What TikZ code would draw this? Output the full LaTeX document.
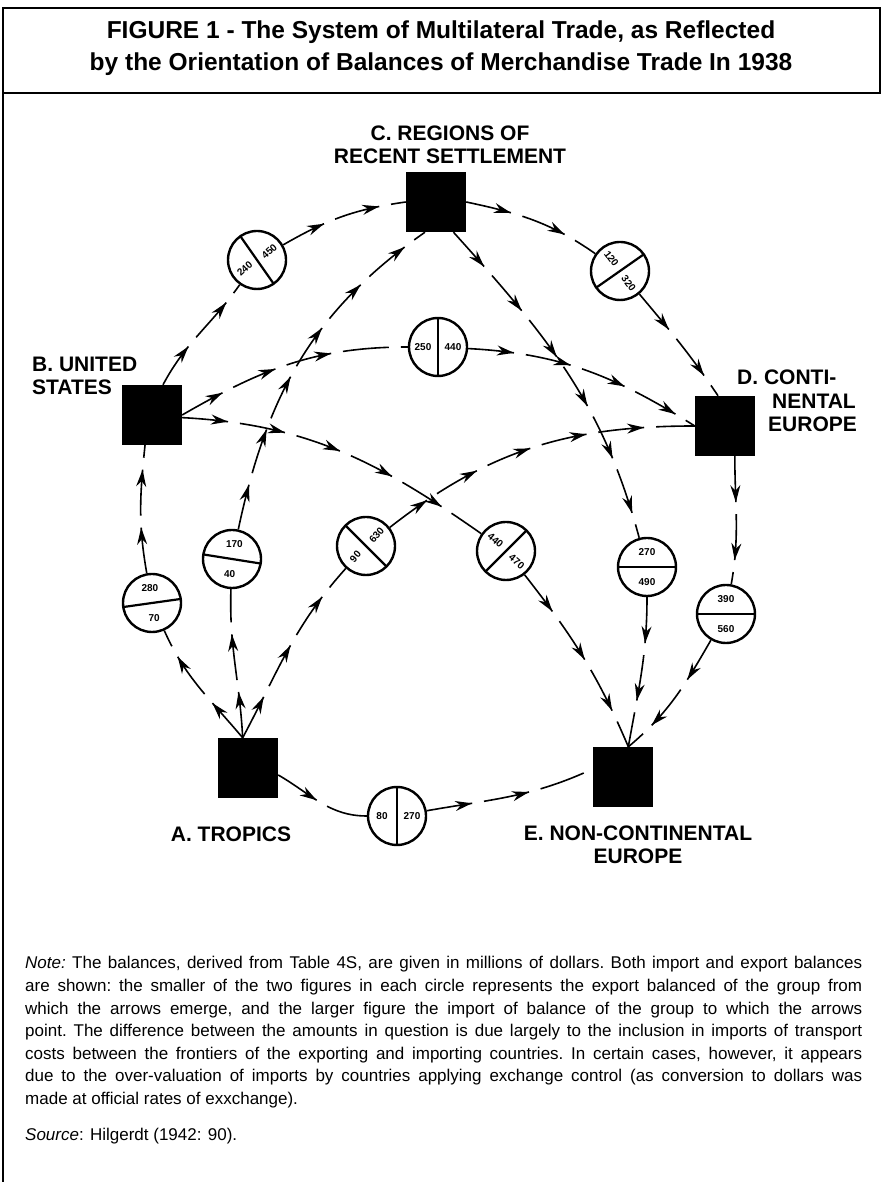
\documentclass[tikz,border=0pt]{standalone}
\usepackage{fontspec}
\setmainfont{Liberation Sans}
\usetikzlibrary{arrows.meta,decorations.markings}

\begin{document}
\begin{tikzpicture}[x=1pt,y=1pt,
  region/.style={fill=black,minimum size=60pt,inner sep=0pt},
  bal/.style={circle,draw,line width=2.4pt,minimum size=58pt,inner sep=0pt},
  divider/.style={line width=2.2pt},
  num/.style={font=\fontsize{10}{10}\selectfont\bfseries,inner sep=0pt},
  lbl/.style={font=\fontsize{21}{23.5}\selectfont\bfseries,inner sep=0pt},
  flow/.style={line width=1.6pt,dash pattern=on 46pt off 12pt,postaction={decorate},
    decoration={markings,mark=between positions 46pt and -22pt step 58pt with {\arrow{Stealth[length=17pt,width=10pt]}}}}]
\useasboundingbox (0,0) rectangle (882,1182);
\draw[line width=2pt] (3,1089) rectangle (880,1174);
\draw[line width=2pt] (3,1089) -- (3,0);
\node[font=\fontsize{24.5}{32}\selectfont\bfseries,align=center] (title) at (441,1134)
  {FIGURE 1 - The System of Multilateral Trade, as Reflected\\by the Orientation of Balances of Merchandise Trade In 1938};
\node[region] (C) at (436,980) {};
\node[region] (B) at (152,767) {};
\node[region] (D) at (725,756) {};
\node[region] (A) at (248,414) {};
\node[region] (E) at (623,405) {};
\node[lbl,align=center] (labC) at (450,1037) {C. REGIONS OF\\RECENT SETTLEMENT};
\node[lbl,align=left,anchor=west] (labB) at (32,806) {B. UNITED\\STATES};
\node[lbl,align=left,anchor=west] (labD) at (737,781) {D. CONTI-\\\hspace*{35pt}NENTAL\\\hspace*{31pt}EUROPE};
\node[lbl] (labA) at (231,348) {A. TROPICS};
\node[lbl,align=center] (labE) at (638,337) {E. NON-CONTINENTAL\\EUROPE};
\foreach \nm/\x/\y/\ang/\tr/\ex/\im in {
  cBC/257/922/35/42/240/450,
  cCD/620/911/-55/-53/120/320,
  cBD/438/835/0/0/250/440,
  cAC/232/623/81/0/40/170,
  cAB/152/579/98/0/70/280,
  cAD/366/636/45/50/90/630,
  cBE/506/631/-45/-40/440/470,
  cCE/647/615/-90/0/270/490,
  cDE/726/568/-90/0/390/560,
  cAE/397/366/0/0/80/270}{
  \node[bal] (\nm) at (\x,\y) {};
  \draw[divider] ([shift={(\ang+90:29)}]\nm.center) -- ([shift={(\ang-90:29)}]\nm.center);
  \node[num,rotate=\tr] (\nm-ex) at ([shift={(\ang+180:15)}]\nm.center) {\ex};
  \node[num,rotate=\tr] (\nm-im) at ([shift={(\ang:15)}]\nm.center) {\im};
}
\draw[flow] (B.70) to[out=62,in=235] (cBC);
\draw[flow] (cBC) to[out=30,in=188] (C.west);
\draw[flow] (C.east) to[out=-12,in=145] (cCD);
\draw[flow] (cCD) to[out=-50,in=124] (D.103);
\draw[flow] (D.-72) to[out=-90,in=80] (cDE);
\draw[flow] (cDE) to[out=-120,in=40] (E.80);
\draw[flow] (A.-13) to[out=-30,in=180] (cAE);
\draw[flow] (cAE) to[out=10,in=205] (E.165);
\draw[flow] (A.100) to[out=130,in=-66] (cAB);
\draw[flow] (cAB) to[out=100,in=-96] (B.-103);
\draw[flow] (A.100) to[out=93,in=-92] (cAC);
\draw[flow] (cAC) to[out=78,in=215] (C.250);
\draw[flow] (A.100) to[out=62,in=228] (cAD);
\draw[flow] (cAD) to[out=38,in=180] (D.west);
\draw[flow] (B.east) to[out=30,in=180] (cBD);
\draw[flow] (cBD) to[out=-3,in=148] (D.west);
\draw[flow] (B.-5) to[out=-3,in=145] (cBE);
\draw[flow] (cBE) to[out=-52,in=113] (E.80);
\draw[flow] (C.-60) to[out=-48,in=105] (cCE);
\draw[flow] (cCE) to[out=-90,in=80] (E.80);
\node[anchor=base west,text width=837pt,align=justify,inner sep=0pt,
  font=\fontsize{17}{22.6}\selectfont] (note) at (25,213)
  {\frenchspacing\hyphenpenalty=10000 \textit{Note:} The balances, derived from Table 4S, are given in millions of dollars. Both import and export balances\linebreak
  are shown: the smaller of the two figures in each circle represents the export balanced of the group from\linebreak
  which the arrows emerge, and the larger figure the import of balance of the group to which the arrows\linebreak
  point. The difference between the amounts in question is due largely to the inclusion in imports of transport\linebreak
  costs between the frontiers of the exporting and importing countries. In certain cases, however, it appears\linebreak
  due to the over-valuation of imports by countries applying exchange control (as conversion to dollars was\linebreak
  made at official rates of exxchange).};
\node[anchor=base west,inner sep=0pt,font=\fontsize{17}{22.6}\selectfont] (src) at (25,41)
  {\textit{Source}: Hilgerdt (1942: 90).};
\end{tikzpicture}
\end{document}
